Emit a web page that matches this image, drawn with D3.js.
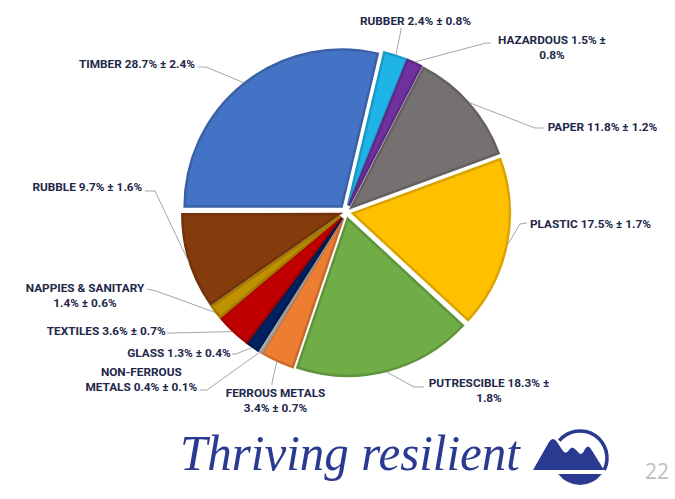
<!DOCTYPE html>
<html>
<head>
<meta charset="utf-8">
<script src="https://cdn.jsdelivr.net/npm/d3@7"></script>
<style>
  html, body { margin: 0; padding: 0; background: #ffffff; }
  svg { display: block; }
</style>
</head>
<body>
<svg id="chart" width="675" height="499"></svg>
<script>
// Waste composition (% by weight) with 95% confidence margins
const categories = ["RUBBER", "HAZARDOUS", "PAPER", "PLASTIC", "PUTRESCIBLE", "FERROUS METALS",
  "NON-FERROUS METALS", "GLASS", "TEXTILES", "NAPPIES & SANITARY", "RUBBLE", "TIMBER"];
const shares = [2.4, 1.5, 11.8, 17.5, 18.3, 3.4, 0.4, 1.3, 3.6, 1.4, 9.7, 28.7];
const margins = [0.8, 0.8, 1.2, 1.7, 1.8, 0.7, 0.1, 0.4, 0.7, 0.6, 1.6, 2.4];
const colors = ["#1EB4E8", "#7030A0", "#767171", "#FFC000", "#70AD47", "#ED7D31",
  "#B4B4B4", "#002060", "#C00000", "#BF9000", "#843C0C", "#4472C4"];

// Label placement: text anchor point, words on first line, leader start and elbow
const labelLayout = [
  { x: 360,   y: 20.7,  anchor: "start",  wrap: 0, from: [401, 28],  elbow: [401, 30] },
  { x: 552,   y: 39.3,  anchor: "middle", wrap: 3, from: [491, 43],  elbow: [486, 43] },
  { x: 547.7, y: 126.7, anchor: "start",  wrap: 0, from: [544, 128], elbow: [535, 128] },
  { x: 530,   y: 223.3, anchor: "start",  wrap: 0, from: [527, 223], elbow: [520, 224] },
  { x: 489,   y: 382.7, anchor: "middle", wrap: 3, from: [424, 387], elbow: [414, 387] },
  { x: 275.5, y: 392.7, anchor: "middle", wrap: 2, from: [272, 385], elbow: [272, 383] },
  { x: 141.3, y: 371.7, anchor: "middle", wrap: 1, from: [200, 390], elbow: [207, 390] },
  { x: 230.7, y: 352.7, anchor: "end",    wrap: 0, from: [232, 354], elbow: [236, 354] },
  { x: 165.7, y: 331,   anchor: "end",    wrap: 0, from: [167, 333], elbow: [172, 333] },
  { x: 85,    y: 287.7, anchor: "middle", wrap: 3, from: [147, 289], elbow: [156, 291] },
  { x: 142.3, y: 186.7, anchor: "end",    wrap: 0, from: [145, 191], elbow: [155, 191] },
  { x: 195,   y: 64,    anchor: "end",    wrap: 0, from: [198, 67],  elbow: [206, 67] }
];

const svg = d3.select("#chart");
const cx = 346, cy = 212, radius = 158, explode = 7;
const startDeg = 13.3;

const data = categories.map((c, i) => ({ name: c, value: shares[i], margin: margins[i], color: colors[i], i }));

const pie = d3.pie()
  .value(d => d.value)
  .sort(null)
  .startAngle(startDeg * Math.PI / 180)
  .endAngle((startDeg + 360) * Math.PI / 180);

const arc = d3.arc().innerRadius(0).outerRadius(radius);
const arcs = pie(data);

const g = svg.append("g").attr("transform", `translate(${cx},${cy})`);

const shift = d => {
  const m = (d.startAngle + d.endAngle) / 2;
  return `translate(${explode * Math.sin(m)},${-explode * Math.cos(m)})`;
};

// White backing keeps a thin gap between neighbouring slices
g.selectAll("path.gap")
  .data(arcs)
  .join("path")
  .attr("class", "gap")
  .attr("transform", shift)
  .attr("d", arc)
  .attr("fill", "#fff")
  .attr("stroke", "#fff")
  .attr("stroke-width", 4)
  .attr("stroke-linejoin", "round");

// Exploded slices with a darker outline in the same hue
const inner = d3.arc().innerRadius(0).outerRadius(radius - 1);
g.selectAll("path.slice")
  .data(arcs)
  .join("path")
  .attr("class", "slice")
  .attr("transform", shift)
  .attr("d", inner)
  .attr("fill", d => d.data.color)
  .attr("stroke", d => d3.color(d.data.color).darker(0.45))
  .attr("stroke-width", 2.5)
  .attr("stroke-linejoin", "miter");

// Leader lines from each label to the outer edge of its slice
const edgePoint = d => {
  const m = (d.startAngle + d.endAngle) / 2;
  const rr = radius + explode;
  return [cx + rr * Math.sin(m), cy - rr * Math.cos(m)];
};

svg.append("g")
  .selectAll("path")
  .data(arcs)
  .join("path")
  .attr("d", d => {
    const L = labelLayout[d.index];
    const e = edgePoint(d);
    return d3.line()([L.from, L.elbow, e]);
  })
  .attr("fill", "none")
  .attr("stroke", "#A6A6A6")
  .attr("stroke-width", 1);

// Category labels
const labelText = d => `${d.name} ${d3.format(".1f")(d.value)}% ± ${d3.format(".1f")(d.margin)}%`;

const labels = svg.append("g")
  .attr("font-family", "Roboto, 'Liberation Sans', sans-serif")
  .attr("font-weight", 700)
  .attr("font-size", 11.8)
  .attr("fill", "#22274A");

arcs.forEach(d => {
  const L = labelLayout[d.index];
  const words = labelText(d.data).split(" ");
  const lines = L.wrap ? [words.slice(0, L.wrap).join(" "), words.slice(L.wrap).join(" ")] : [words.join(" ")];
  const t = labels.append("text")
    .attr("text-anchor", L.anchor);
  lines.forEach((ln, k) => {
    t.append("tspan")
      .attr("x", L.x)
      .attr("y", L.y + 4.2 + k * 15)
      .text(ln);
  });
});

// Footer: tagline, emblem and page number
const brand = "#2B3A91";
svg.append("text")
  .attr("x", 180)
  .attr("y", 470)
  .attr("font-family", "'Liberation Serif', 'DejaVu Serif', serif")
  .attr("font-style", "italic")
  .attr("font-size", 50)
  .attr("textLength", 340)
  .attr("lengthAdjust", "spacingAndGlyphs")
  .attr("fill", brand)
  .text("Thriving resilient");

const logo = svg.append("g");
const lx = 580, ly = 458, lr = 27;
const ring = d3.arc().innerRadius(lr - 1.8).outerRadius(lr + 1.8)
  .startAngle(-50 * Math.PI / 180).endAngle(116 * Math.PI / 180);
logo.append("path")
  .attr("transform", `translate(${lx},${ly})`)
  .attr("d", ring)
  .attr("fill", brand);
logo.append("path")
  .attr("d", "M533,470 L549,442 Q553,436 557,442 L563,451 Q566,455 569,450 Q572,445 576,450 L579,453 Q582,456 585,449 Q588,444 591,449 L604,470 Z")
  .attr("fill", brand);
const hw = Math.sqrt(lr * lr - 16 * 16);
logo.append("path")
  .attr("d", `M${lx - hw},${ly + 16} L${lx + hw},${ly + 16} A${lr},${lr} 0 0,1 ${lx - hw},${ly + 16} Z`)
  .attr("fill", brand);

svg.append("text")
  .attr("x", 645)
  .attr("y", 479)
  .attr("font-family", "'Open Sans', sans-serif")
  .attr("font-size", 21)
  .attr("fill", "#BFBFBF")
  .text("22");
</script>
</body>
</html>
